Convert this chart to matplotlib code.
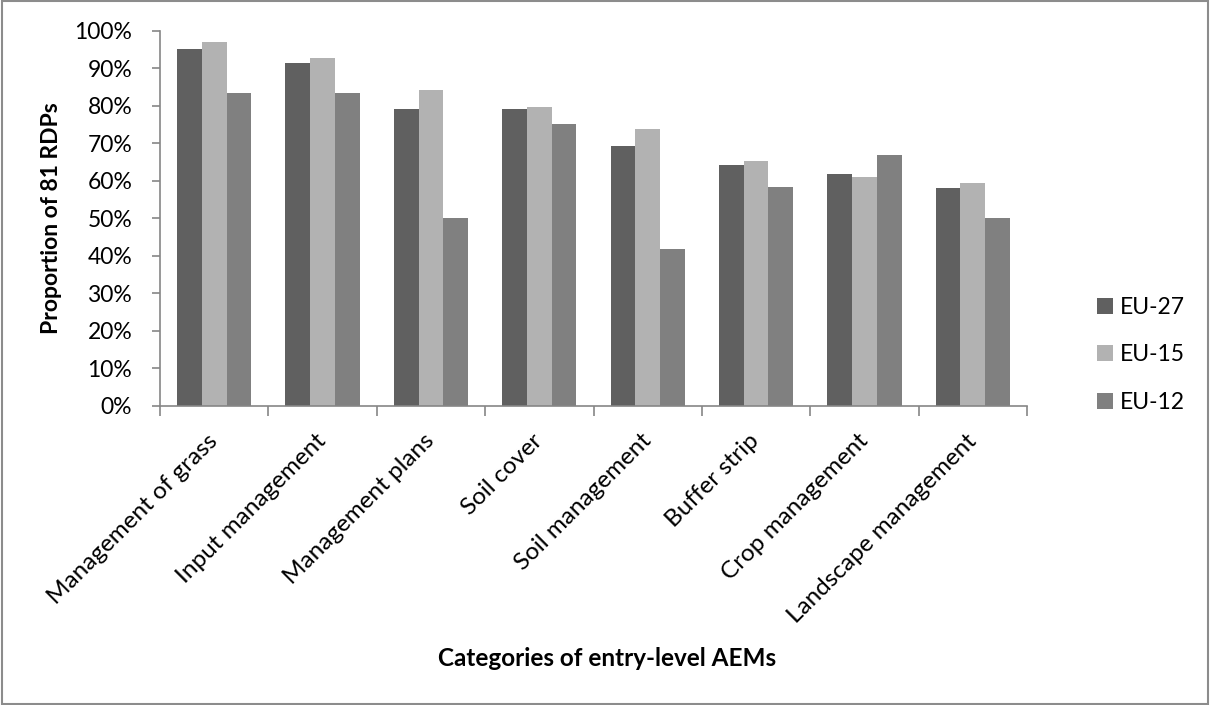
import numpy as np
import matplotlib.pyplot as plt
from matplotlib.patches import Rectangle
from matplotlib.ticker import PercentFormatter

plt.rcParams['font.family'] = ['Lato', 'DejaVu Sans']

# Share of the 81 RDPs offering each entry-level AEM category (%)
categories = ["Management of grass", "Input management", "Management plans",
              "Soil cover", "Soil management", "Buffer strip",
              "Crop management", "Landscape management"]
series_names = ["EU-27", "EU-15", "EU-12"]
eu27 = [95.1, 91.4, 79.0, 79.0, 69.1, 64.2, 61.7, 58.0]
eu15 = [97.1, 92.8, 84.1, 79.7, 73.9, 65.2, 60.9, 59.4]
eu12 = [83.3, 83.3, 50.0, 75.0, 41.7, 58.3, 66.7, 50.0]
colors = ["#606060", "#b2b2b2", "#808080"]

fig = plt.figure(figsize=(12.1, 7.05), dpi=100)
ax = fig.add_axes([0.1322, 0.4248, 0.7166, 0.5317])

x = np.arange(len(categories))
w = 0.228
for i, (vals, name) in enumerate(zip([eu27, eu15, eu12], series_names)):
    ax.bar(x + (i - 1) * w, vals, width=w, color=colors[i], label=name)

axis_col = "#868686"
ax.set_xlim(-0.5, len(categories) - 0.5)
ax.set_ylim(0, 100)
ax.set_yticks(np.arange(0, 101, 10))
ax.yaxis.set_major_formatter(PercentFormatter(decimals=0))
for s in ["top", "right"]:
    ax.spines[s].set_visible(False)
for s in ["left", "bottom"]:
    ax.spines[s].set_color(axis_col)
    ax.spines[s].set_linewidth(1.2)

ax.set_xticks(x)
ax.set_xticks(np.arange(-0.5, len(categories), 1), minor=True)
ax.tick_params(axis="x", which="major", length=0, pad=23)
ax.tick_params(axis="x", which="minor", length=7, color=axis_col, width=1.2)
ax.tick_params(axis="y", length=6, color=axis_col, width=1.2, labelsize=16.5, pad=14)
ax.set_xticklabels(categories, rotation=45, ha="right", va="center",
                   rotation_mode="anchor", fontsize=17.5)

ax.set_ylabel("Proportion of 81 RDPs", fontsize=16.5, fontweight="bold", labelpad=9)
fig.text(607 / 1210, 1 - 658 / 705, "Categories of entry-level AEMs",
         fontsize=17.5, fontweight="bold", ha="center", va="center")

ax.legend(loc="center left", bbox_to_anchor=(1.081, 0.135), frameon=False,
          fontsize=16.5, handlelength=0.7, handleheight=0.7, handletextpad=0.3,
          labelspacing=1.15, borderpad=0, borderaxespad=0)

# light grey border round the whole chart area
fig.patches.append(Rectangle((0.002, 0.002), 0.996, 0.996, transform=fig.transFigure,
                             fill=False, edgecolor="#8c8c8c", linewidth=1.5))

fig.savefig("out.png", dpi=100)
